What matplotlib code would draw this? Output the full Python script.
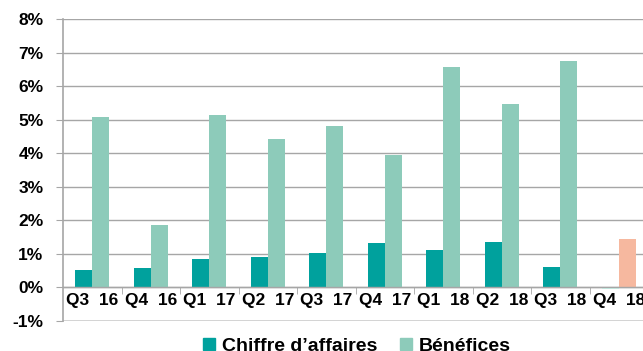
import matplotlib
matplotlib.use("Agg")
import matplotlib.pyplot as plt
import numpy as np
from matplotlib.patches import Patch

categories = ["Q3  16", "Q4  16", "Q1  17", "Q2  17", "Q3  17", "Q4  17", "Q1  18", "Q2  18", "Q3  18", "Q4  18"]
chiffre = [0.51, 0.59, 0.85, 0.90, 1.02, 1.33, 1.13, 1.36, 0.62, -0.05]
benefices = [5.08, 1.86, 5.13, 4.43, 4.81, 3.95, 6.58, 5.47, 6.74, 1.44]
yticks = [-1, 0, 1, 2, 3, 4, 5, 6, 7, 8]

c_ca = "#00A19D"
c_ben = "#8DCBBA"
c_ca_last = "#C9F4EA"
c_ben_last = "#F6B89F"

plt.rcParams['font.family'] = ['Liberation Sans', 'DejaVu Sans']

fig = plt.figure(figsize=(6.43, 3.51), dpi=100)
ax = fig.add_axes([63/643, 30/351, 585/643, 302/351])

x = np.arange(len(categories))
w = 0.29
ca_colors = [c_ca]*(len(categories)-1) + [c_ca_last]
ben_colors = [c_ben]*(len(categories)-1) + [c_ben_last]
ax.bar(x - w/2, chiffre, width=w, color=ca_colors, zorder=3)
ax.bar(x + w/2, benefices, width=w, color=ben_colors, zorder=3)

ax.set_xlim(-0.5, len(categories)-0.5)
ax.set_ylim(-1, 8)
ax.set_yticks(yticks)
ax.set_yticklabels([f"{v}%" for v in yticks], fontsize=12.5, fontweight='bold')
ax.yaxis.grid(True, color='#A6A6A6', linewidth=1.0, zorder=0)
gl = ax.get_ygridlines()
gl[0].set_color('#CFCFCF')
gl[0].set_linewidth(2.0)
ax.tick_params(axis='y', length=5, color='#A6A6A6', pad=9, direction='out')

for s in ['top', 'right']:
    ax.spines[s].set_visible(False)
ax.spines['left'].set_color('#A6A6A6')
ax.spines['left'].set_linewidth(1.2)
ax.spines['bottom'].set_position(('data', 0))
ax.spines['bottom'].set_color('#A6A6A6')
ax.spines['bottom'].set_linewidth(1.0)
ax.spines['bottom'].set_zorder(4)

ax.set_xticks(x)
ax.set_xticklabels(categories, fontsize=12.5, fontweight='bold')
ax.set_xticks(np.arange(len(categories)) + 0.5, minor=True)
ax.tick_params(axis='x', which='major', length=0, pad=4)
ax.tick_params(axis='x', which='minor', length=5, color='#A6A6A6', direction='out')

handles = [Patch(color=c_ca, label="Chiffre d\u2019affaires"), Patch(color=c_ben, label="Bénéfices")]
fig.legend(handles=handles, loc='lower center', bbox_to_anchor=(0.555, -0.06), ncol=2, frameon=False,
           prop={'size': 14, 'weight': 'bold'}, handlelength=0.6, handleheight=0.6, columnspacing=1.2, handletextpad=0.35)

fig.savefig("out.png", dpi=100)
